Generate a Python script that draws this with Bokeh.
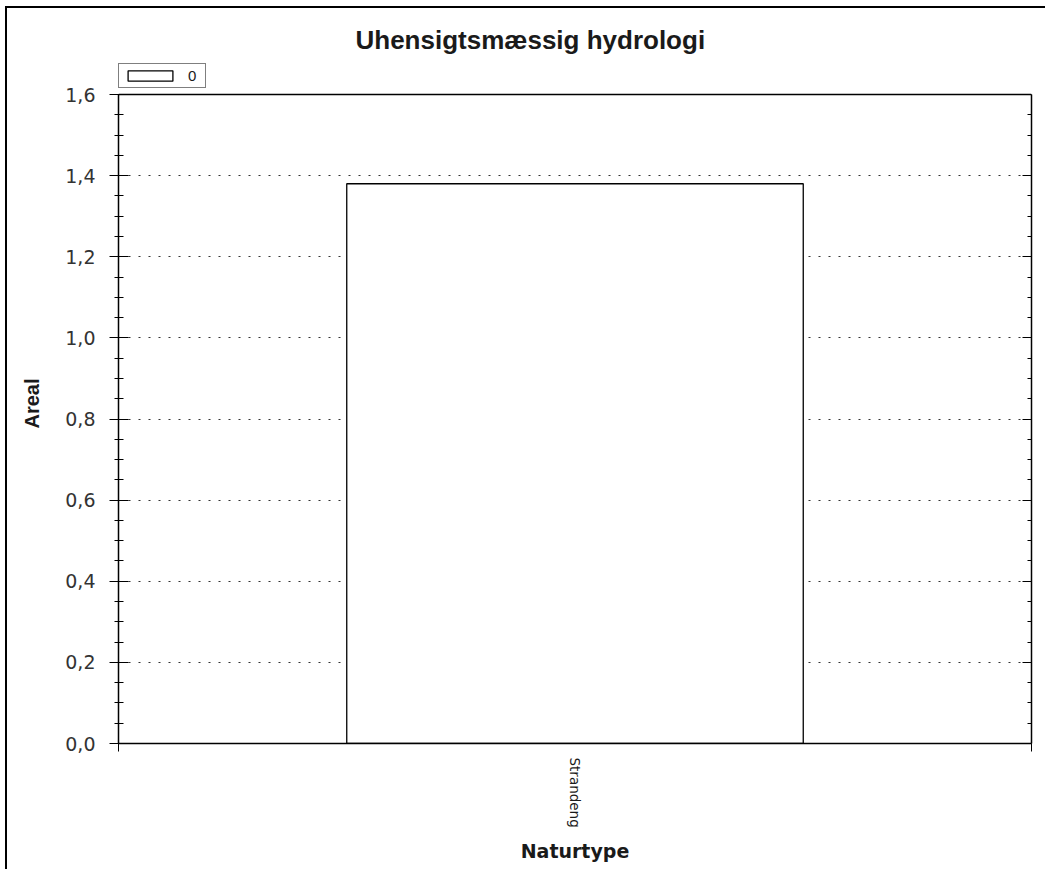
import math
from bokeh.plotting import figure
from bokeh.models import (Range1d, LinearAxis, FixedTicker, Span,
                          CustomJSTickFormatter, Legend, LegendItem)
from bokeh.embed import file_html
from bokeh.resources import INLINE

# ---- data ----
title_text = "Uhensigtsmæssig hydrologi"
categories = ["Strandeng"]
values = [1.38]
series_label = "0"
x_label = "Naturtype"
y_label = "Areal"
y_major_ticks = [0.0, 0.2, 0.4, 0.6, 0.8, 1.0, 1.2, 1.4, 1.6]
y_grid_ticks = [0.2, 0.4, 0.6, 0.8, 1.0, 1.2, 1.4]
y_max = 1.6

# headroom above the axis top so the legend sits above the plot box
Y_VIEW_TOP = 1.6765

n = len(categories)
x_centers = [i + 0.5 for i in range(n)]
x_edges = [float(i) for i in range(n + 1)]

minor_ticks = []
for a, b in zip(y_major_ticks[:-1], y_major_ticks[1:]):
    for k in (1, 2, 3):
        minor_ticks.append(a + (b - a) * k / 4)

p = figure(x_range=Range1d(0, n), y_range=Range1d(0, Y_VIEW_TOP),
           frame_width=913, frame_height=680, output_backend="svg", toolbar_location=None,
           x_axis_location=None, y_axis_location="left",
           min_border_left=111, min_border_right=14, min_border_top=55, min_border_bottom=126)
p.background_fill_color = "white"
p.border_fill_color = "white"
p.outline_line_color = None
p.styles = {"border-left": "2px solid black", "border-top": "2px solid black",
            "margin-left": "5px", "margin-top": "6px"}

# title
p.title.text = title_text
p.title.align = "left"
p.title.offset = 237
p.title.standoff = 17
p.title.text_font = "Liberation Sans"
p.title.text_font_style = "bold"
p.title.text_font_size = "26px"
p.title.text_color = "#1a1a1a"

# grid
p.xgrid.visible = False
p.ygrid.ticker = FixedTicker(ticks=y_grid_ticks)
p.ygrid.grid_line_color = "#333333"
p.ygrid.grid_line_dash = "2 8"
p.ygrid.grid_line_width = 1

# bars
r = p.vbar(x=x_centers, top=values, width=0.5, fill_color="white",
           line_color="black", line_width=1.3)

# top border of the plot box at the axis maximum
p.add_layout(Span(location=y_max, dimension="width", line_color="black", line_width=1.5))

# y axis
yax = p.yaxis[0]
yax.bounds = (0, y_max)
yax.ticker = FixedTicker(ticks=y_major_ticks, minor_ticks=minor_ticks)
yax.formatter = CustomJSTickFormatter(code="return tick.toFixed(1).replace('.', ',');")
yax.major_tick_in = 10
yax.major_tick_out = 9
yax.minor_tick_in = 5
yax.minor_tick_out = 4
yax.major_tick_line_color = "black"
yax.minor_tick_line_color = "black"
yax.axis_line_color = "black"
yax.axis_line_width = 1.5
yax.major_label_standoff = 14
yax.major_label_text_font = "DejaVu Sans"
yax.major_label_text_font_size = "19px"
yax.major_label_text_color = "#333333"
yax.axis_label = y_label
yax.axis_label_standoff = 19
yax.axis_label_text_font = "Liberation Sans"
yax.axis_label_text_font_style = "bold"
yax.axis_label_text_font_size = "20px"
yax.axis_label_text_color = "#1a1a1a"

# right axis (ticks only)
rax = LinearAxis(ticker=FixedTicker(ticks=y_major_ticks, minor_ticks=minor_ticks),
                 bounds=(0, y_max),
                 major_tick_in=9, major_tick_out=0, minor_tick_in=4, minor_tick_out=0,
                 major_label_text_font_size="0px", major_label_standoff=0,
                 axis_line_color="black", axis_line_width=1.5,
                 major_tick_line_color="black", minor_tick_line_color="black")
p.add_layout(rax, "right")

# bottom: edge ticks axis + category labels axis
eax = LinearAxis(ticker=FixedTicker(ticks=x_edges, minor_ticks=[]),
                 major_tick_out=8, major_tick_in=0, minor_tick_out=0, minor_tick_in=0,
                 major_label_text_font_size="0px", major_label_standoff=0,
                 axis_line_color="black", axis_line_width=1.5, major_tick_line_color="black")
p.add_layout(eax, "below")

cax = LinearAxis(ticker=FixedTicker(ticks=x_centers, minor_ticks=[]),
                 formatter=CustomJSTickFormatter(args=dict(labels=categories),
                                                 code="return labels[Math.floor(tick)] || '';"),
                 major_tick_out=0, major_tick_in=0, minor_tick_out=0, minor_tick_in=0,
                 axis_line_color=None, major_tick_line_color=None,
                 major_label_orientation=-math.pi / 2, major_label_standoff=6,
                 major_label_text_font="DejaVu Sans", major_label_text_font_size="13.5px",
                 major_label_text_color="#1a1a1a",
                 axis_label=x_label, axis_label_standoff=9,
                 axis_label_text_font="DejaVu Sans", axis_label_text_font_style="bold",
                 axis_label_text_font_size="19px", axis_label_text_color="#1a1a1a")
p.add_layout(cax, "below")

# legend in the headroom, top-left
legend = Legend(items=[LegendItem(label=series_label, renderers=[r])],
                location="top_left", orientation="vertical",
                glyph_width=56, glyph_height=13, label_height=14, label_width=14,
                label_standoff=10, padding=3, margin=0, spacing=0,
                border_line_color="black", border_line_width=1,
                background_fill_color="white", background_fill_alpha=1,
                label_text_font="Liberation Sans", label_text_font_size="15px",
                label_text_color="#1a1a1a")
p.add_layout(legend, "center")

open("out.html", "w").write(file_html(p, INLINE))
